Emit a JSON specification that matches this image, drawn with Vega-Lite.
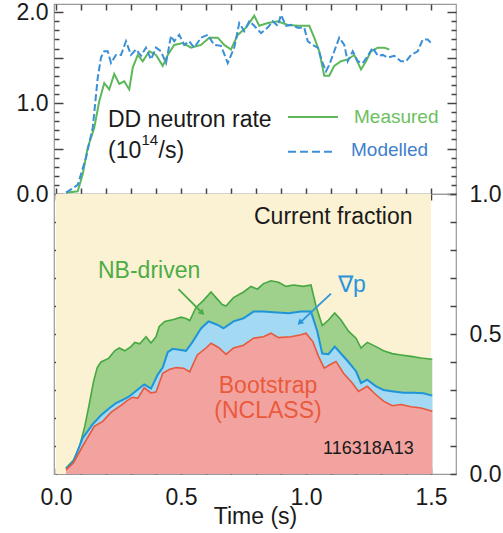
{
  "$schema": "https://vega.github.io/schema/vega-lite/v6.json",
  "padding": {"left": 15, "top": 0, "right": 0, "bottom": 0},
  "background": "#ffffff",
  "bounds": "flush",
  "spacing": 0,
  "config": {
    "font": "Liberation Sans",
    "view": {"stroke": "#9a9a9a", "strokeWidth": 1.2},
    "axis": {
      "domain": false,
      "grid": false,
      "ticks": true,
      "zindex": 2,
      "tickColor": "#444444",
      "tickWidth": 1.5,
      "tickOpacity": 1,
      "labelFont": "Liberation Sans",
      "labelFontSize": 23,
      "labelColor": "#1a1a1a",
      "labelOverlap": false,
      "labelFlush": false,
      "titleFont": "Liberation Sans",
      "titleFontSize": 23,
      "titleFontWeight": "normal",
      "titleColor": "#1a1a1a"
    }
  },
  "datasets": {
    "measured": [
      {"t": 0.04, "rate": 0.015}, {"t": 0.087, "rate": 0.03}, {"t": 0.107, "rate": 0.22}, {"t": 0.127, "rate": 0.51},
      {"t": 0.153, "rate": 0.73}, {"t": 0.173, "rate": 1.02}, {"t": 0.193, "rate": 1.22}, {"t": 0.213, "rate": 1.15},
      {"t": 0.233, "rate": 1.32}, {"t": 0.253, "rate": 1.21}, {"t": 0.273, "rate": 1.24}, {"t": 0.293, "rate": 1.15},
      {"t": 0.307, "rate": 1.39}, {"t": 0.327, "rate": 1.53}, {"t": 0.347, "rate": 1.46}, {"t": 0.373, "rate": 1.57},
      {"t": 0.4, "rate": 1.53}, {"t": 0.427, "rate": 1.41}, {"t": 0.447, "rate": 1.53}, {"t": 0.473, "rate": 1.64},
      {"t": 0.507, "rate": 1.66}, {"t": 0.54, "rate": 1.61}, {"t": 0.58, "rate": 1.64}, {"t": 0.613, "rate": 1.72},
      {"t": 0.647, "rate": 1.72}, {"t": 0.673, "rate": 1.64}, {"t": 0.7, "rate": 1.59}, {"t": 0.727, "rate": 1.75},
      {"t": 0.76, "rate": 1.83}, {"t": 0.793, "rate": 1.96}, {"t": 0.813, "rate": 1.85}, {"t": 0.847, "rate": 1.88},
      {"t": 0.887, "rate": 1.9}, {"t": 0.927, "rate": 1.86}, {"t": 0.967, "rate": 1.85}, {"t": 1.013, "rate": 1.85},
      {"t": 1.033, "rate": 1.72}, {"t": 1.053, "rate": 1.57}, {"t": 1.073, "rate": 1.3}, {"t": 1.093, "rate": 1.3},
      {"t": 1.113, "rate": 1.41}, {"t": 1.14, "rate": 1.46}, {"t": 1.167, "rate": 1.48}, {"t": 1.193, "rate": 1.53},
      {"t": 1.22, "rate": 1.37}, {"t": 1.24, "rate": 1.46}, {"t": 1.26, "rate": 1.57}, {"t": 1.287, "rate": 1.61},
      {"t": 1.313, "rate": 1.61}, {"t": 1.333, "rate": 1.59}
    ],
    "modelled": [
      {"t": 0.04, "rate": 0.015}, {"t": 0.087, "rate": 0.1}, {"t": 0.12, "rate": 0.4}, {"t": 0.147, "rate": 0.73},
      {"t": 0.167, "rate": 1.28}, {"t": 0.18, "rate": 1.5}, {"t": 0.193, "rate": 1.57}, {"t": 0.207, "rate": 1.57},
      {"t": 0.22, "rate": 1.44}, {"t": 0.24, "rate": 1.53}, {"t": 0.26, "rate": 1.53}, {"t": 0.28, "rate": 1.68},
      {"t": 0.3, "rate": 1.53}, {"t": 0.32, "rate": 1.59}, {"t": 0.34, "rate": 1.52}, {"t": 0.36, "rate": 1.61},
      {"t": 0.38, "rate": 1.48}, {"t": 0.4, "rate": 1.61}, {"t": 0.42, "rate": 1.57}, {"t": 0.44, "rate": 1.44},
      {"t": 0.46, "rate": 1.74}, {"t": 0.473, "rate": 1.68}, {"t": 0.493, "rate": 1.75}, {"t": 0.513, "rate": 1.64},
      {"t": 0.533, "rate": 1.68}, {"t": 0.553, "rate": 1.61}, {"t": 0.58, "rate": 1.72}, {"t": 0.607, "rate": 1.75},
      {"t": 0.633, "rate": 1.64}, {"t": 0.66, "rate": 1.63}, {"t": 0.687, "rate": 1.44}, {"t": 0.713, "rate": 1.61},
      {"t": 0.733, "rate": 1.88}, {"t": 0.753, "rate": 1.79}, {"t": 0.773, "rate": 1.9}, {"t": 0.793, "rate": 1.85},
      {"t": 0.82, "rate": 1.77}, {"t": 0.847, "rate": 1.83}, {"t": 0.867, "rate": 1.9}, {"t": 0.887, "rate": 1.85},
      {"t": 0.9, "rate": 1.97}, {"t": 0.92, "rate": 1.85}, {"t": 0.94, "rate": 1.86}, {"t": 0.967, "rate": 1.83},
      {"t": 0.993, "rate": 1.83}, {"t": 1.007, "rate": 1.68}, {"t": 1.027, "rate": 1.64}, {"t": 1.047, "rate": 1.61},
      {"t": 1.067, "rate": 1.44}, {"t": 1.08, "rate": 1.35}, {"t": 1.093, "rate": 1.42}, {"t": 1.113, "rate": 1.57},
      {"t": 1.133, "rate": 1.72}, {"t": 1.153, "rate": 1.64}, {"t": 1.167, "rate": 1.46}, {"t": 1.187, "rate": 1.57},
      {"t": 1.207, "rate": 1.46}, {"t": 1.227, "rate": 1.44}, {"t": 1.247, "rate": 1.52}, {"t": 1.267, "rate": 1.61},
      {"t": 1.287, "rate": 1.52}, {"t": 1.307, "rate": 1.53}, {"t": 1.327, "rate": 1.5}, {"t": 1.353, "rate": 1.52},
      {"t": 1.38, "rate": 1.46}, {"t": 1.4, "rate": 1.46}, {"t": 1.42, "rate": 1.53}, {"t": 1.447, "rate": 1.57},
      {"t": 1.467, "rate": 1.7}, {"t": 1.487, "rate": 1.7}, {"t": 1.507, "rate": 1.64}
    ],
    "nbTop": [
      {"t": 0.04, "cum": 0.02}, {"t": 0.07, "cum": 0.05}, {"t": 0.093, "cum": 0.094}, {"t": 0.115, "cum": 0.17},
      {"t": 0.133, "cum": 0.249}, {"t": 0.15, "cum": 0.33}, {"t": 0.165, "cum": 0.38}, {"t": 0.18, "cum": 0.4},
      {"t": 0.21, "cum": 0.413}, {"t": 0.235, "cum": 0.44}, {"t": 0.253, "cum": 0.45}, {"t": 0.275, "cum": 0.44},
      {"t": 0.3, "cum": 0.455}, {"t": 0.315, "cum": 0.47}, {"t": 0.335, "cum": 0.465}, {"t": 0.36, "cum": 0.49},
      {"t": 0.38, "cum": 0.468}, {"t": 0.4, "cum": 0.49}, {"t": 0.413, "cum": 0.527}, {"t": 0.435, "cum": 0.545},
      {"t": 0.47, "cum": 0.552}, {"t": 0.5, "cum": 0.56}, {"t": 0.52, "cum": 0.555}, {"t": 0.535, "cum": 0.548},
      {"t": 0.56, "cum": 0.595}, {"t": 0.59, "cum": 0.62}, {"t": 0.62, "cum": 0.65}, {"t": 0.64, "cum": 0.63},
      {"t": 0.665, "cum": 0.605}, {"t": 0.68, "cum": 0.6}, {"t": 0.71, "cum": 0.63}, {"t": 0.75, "cum": 0.65},
      {"t": 0.78, "cum": 0.67}, {"t": 0.805, "cum": 0.66}, {"t": 0.83, "cum": 0.68}, {"t": 0.86, "cum": 0.69},
      {"t": 0.89, "cum": 0.685}, {"t": 0.92, "cum": 0.67}, {"t": 0.95, "cum": 0.675}, {"t": 0.99, "cum": 0.67},
      {"t": 1.02, "cum": 0.675}, {"t": 1.04, "cum": 0.6}, {"t": 1.065, "cum": 0.53}, {"t": 1.09, "cum": 0.55},
      {"t": 1.115, "cum": 0.575}, {"t": 1.14, "cum": 0.55}, {"t": 1.17, "cum": 0.51}, {"t": 1.2, "cum": 0.485},
      {"t": 1.22, "cum": 0.45}, {"t": 1.245, "cum": 0.47}, {"t": 1.28, "cum": 0.455}, {"t": 1.31, "cum": 0.44},
      {"t": 1.345, "cum": 0.43}, {"t": 1.38, "cum": 0.425}, {"t": 1.42, "cum": 0.42}, {"t": 1.46, "cum": 0.414},
      {"t": 1.505, "cum": 0.41}
    ],
    "gradPTop": [
      {"t": 0.04, "cum": 0.02}, {"t": 0.07, "cum": 0.045}, {"t": 0.107, "cum": 0.129}, {"t": 0.147, "cum": 0.178},
      {"t": 0.18, "cum": 0.21}, {"t": 0.213, "cum": 0.235}, {"t": 0.24, "cum": 0.253}, {"t": 0.267, "cum": 0.265},
      {"t": 0.293, "cum": 0.277}, {"t": 0.327, "cum": 0.302}, {"t": 0.353, "cum": 0.32}, {"t": 0.38, "cum": 0.305},
      {"t": 0.407, "cum": 0.355}, {"t": 0.427, "cum": 0.38}, {"t": 0.447, "cum": 0.435}, {"t": 0.467, "cum": 0.447},
      {"t": 0.493, "cum": 0.444}, {"t": 0.52, "cum": 0.44}, {"t": 0.545, "cum": 0.47}, {"t": 0.58, "cum": 0.52},
      {"t": 0.61, "cum": 0.545}, {"t": 0.645, "cum": 0.533}, {"t": 0.67, "cum": 0.52}, {"t": 0.71, "cum": 0.545},
      {"t": 0.75, "cum": 0.556}, {"t": 0.79, "cum": 0.58}, {"t": 0.83, "cum": 0.58}, {"t": 0.87, "cum": 0.578},
      {"t": 0.93, "cum": 0.574}, {"t": 0.98, "cum": 0.58}, {"t": 1.02, "cum": 0.58}, {"t": 1.045, "cum": 0.51},
      {"t": 1.065, "cum": 0.43}, {"t": 1.09, "cum": 0.428}, {"t": 1.115, "cum": 0.455}, {"t": 1.145, "cum": 0.425},
      {"t": 1.17, "cum": 0.4}, {"t": 1.2, "cum": 0.367}, {"t": 1.22, "cum": 0.325}, {"t": 1.245, "cum": 0.337},
      {"t": 1.28, "cum": 0.313}, {"t": 1.31, "cum": 0.3}, {"t": 1.35, "cum": 0.295}, {"t": 1.39, "cum": 0.29},
      {"t": 1.43, "cum": 0.29}, {"t": 1.47, "cum": 0.288}, {"t": 1.505, "cum": 0.28}
    ],
    "bootstrap": [
      {"t": 0.04, "cum": 0.015}, {"t": 0.07, "cum": 0.04}, {"t": 0.107, "cum": 0.1}, {"t": 0.153, "cum": 0.17},
      {"t": 0.187, "cum": 0.188}, {"t": 0.22, "cum": 0.22}, {"t": 0.26, "cum": 0.245}, {"t": 0.287, "cum": 0.264},
      {"t": 0.307, "cum": 0.274}, {"t": 0.327, "cum": 0.27}, {"t": 0.353, "cum": 0.308}, {"t": 0.38, "cum": 0.29},
      {"t": 0.4, "cum": 0.293}, {"t": 0.427, "cum": 0.36}, {"t": 0.453, "cum": 0.373}, {"t": 0.48, "cum": 0.38},
      {"t": 0.51, "cum": 0.378}, {"t": 0.535, "cum": 0.365}, {"t": 0.565, "cum": 0.425}, {"t": 0.6, "cum": 0.45},
      {"t": 0.62, "cum": 0.467}, {"t": 0.65, "cum": 0.452}, {"t": 0.68, "cum": 0.427}, {"t": 0.71, "cum": 0.45},
      {"t": 0.75, "cum": 0.46}, {"t": 0.79, "cum": 0.485}, {"t": 0.83, "cum": 0.49}, {"t": 0.86, "cum": 0.503},
      {"t": 0.89, "cum": 0.487}, {"t": 0.94, "cum": 0.49}, {"t": 0.98, "cum": 0.497}, {"t": 1.0, "cum": 0.503},
      {"t": 1.027, "cum": 0.473}, {"t": 1.05, "cum": 0.42}, {"t": 1.073, "cum": 0.378}, {"t": 1.095, "cum": 0.39},
      {"t": 1.12, "cum": 0.402}, {"t": 1.15, "cum": 0.36}, {"t": 1.185, "cum": 0.325}, {"t": 1.21, "cum": 0.295},
      {"t": 1.245, "cum": 0.313}, {"t": 1.28, "cum": 0.283}, {"t": 1.31, "cum": 0.26}, {"t": 1.345, "cum": 0.244},
      {"t": 1.38, "cum": 0.248}, {"t": 1.42, "cum": 0.24}, {"t": 1.46, "cum": 0.236}, {"t": 1.505, "cum": 0.224}
    ],
    "one": [{}]
  },
  "vconcat": [
    {
      "width": 402,
      "height": 190,
      "resolve": {"axis": {"x": "independent", "y": "independent"}},
      "layer": [
        {
          "data": {"name": "measured"},
          "mark": {"type": "line", "color": "#5cb85a", "strokeWidth": 2},
          "encoding": {
            "x": {
              "field": "t", "type": "quantitative",
              "scale": {"domain": [-0.008, 1.6], "nice": false, "zero": false},
              "axis": {"orient": "bottom", "values": [0, 0.1, 0.2, 0.3, 0.4, 0.5, 0.6, 0.7, 0.8, 0.9, 1, 1.1, 1.2, 1.3, 1.4, 1.5], "tickSize": 6, "offset": -6, "labels": false, "title": null}
            },
            "y": {
              "field": "rate", "type": "quantitative",
              "scale": {"domain": [0, 2.09], "nice": false},
              "axis": {"orient": "left", "values": [0, 0.5, 1, 1.5, 2], "tickSize": 9, "offset": -9, "labelPadding": 6, "labelExpr": "datum.value % 1 == 0 ? format(datum.value, '.1f') : ''", "title": null}
            }
          }
        },
        {
          "data": {"name": "modelled"},
          "mark": {"type": "line", "color": "#3a8fd6", "strokeWidth": 2, "strokeDash": [7, 3]},
          "encoding": {
            "x": {
              "field": "t", "type": "quantitative",
              "axis": {"orient": "top", "values": [0, 0.1, 0.2, 0.3, 0.4, 0.5, 0.6, 0.7, 0.8, 0.9, 1, 1.1, 1.2, 1.3, 1.4, 1.5], "tickSize": 6, "offset": -6, "labels": false, "title": null}
            },
            "y": {
              "field": "rate", "type": "quantitative",
              "axis": {"orient": "left", "values": [0.1, 0.2, 0.3, 0.4, 0.6, 0.7, 0.8, 0.9, 1.1, 1.2, 1.3, 1.4, 1.6, 1.7, 1.8, 1.9], "tickSize": 5, "offset": -5, "labels": false, "title": null}
            }
          }
        },
        {
          "data": {"name": "one"},
          "mark": {"type": "rule", "color": "#5cb85a", "strokeWidth": 2},
          "encoding": {
            "x": {"datum": 0.928, "axis": null},
            "x2": {"datum": 1.128},
            "y": {"datum": 0.846, "axis": {"orient": "right", "values": [0, 0.5, 1, 1.5, 2], "tickSize": 9, "offset": -9, "labels": false, "title": null}}
          }
        },
        {
          "data": {"name": "one"},
          "mark": {"type": "rule", "color": "#3a8fd6", "strokeWidth": 2, "strokeDash": [8, 4]},
          "encoding": {
            "x": {"datum": 0.928, "axis": null},
            "x2": {"datum": 1.112},
            "y": {"datum": 0.465, "axis": {"orient": "right", "values": [0.1, 0.2, 0.3, 0.4, 0.6, 0.7, 0.8, 0.9, 1.1, 1.2, 1.3, 1.4, 1.6, 1.7, 1.8, 1.9], "tickSize": 5, "offset": -5, "labels": false, "title": null}}
          }
        },
        {
          "data": {"name": "one"},
          "mark": {"type": "text", "align": "left", "baseline": "alphabetic", "fontSize": 23, "color": "#1a1a1a"},
          "encoding": {"x": {"datum": 0.208, "axis": null}, "y": {"datum": 0.736, "axis": null}, "text": {"value": "DD neutron rate"}}
        },
        {
          "data": {"name": "one"},
          "mark": {"type": "text", "align": "left", "baseline": "alphabetic", "fontSize": 23, "color": "#1a1a1a"},
          "encoding": {"x": {"datum": 0.208, "axis": null}, "y": {"datum": 0.396, "axis": null}, "text": {"value": "(10"}}
        },
        {
          "data": {"name": "one"},
          "mark": {"type": "text", "align": "left", "baseline": "alphabetic", "fontSize": 15, "color": "#1a1a1a"},
          "encoding": {"x": {"datum": 0.342, "axis": null}, "y": {"datum": 0.54, "axis": null}, "text": {"value": "14"}}
        },
        {
          "data": {"name": "one"},
          "mark": {"type": "text", "align": "left", "baseline": "alphabetic", "fontSize": 23, "color": "#1a1a1a"},
          "encoding": {"x": {"datum": 0.41, "axis": null}, "y": {"datum": 0.396, "axis": null}, "text": {"value": "/s)"}}
        },
        {
          "data": {"name": "one"},
          "mark": {"type": "text", "align": "left", "baseline": "alphabetic", "fontSize": 19, "color": "#6cbf5e"},
          "encoding": {"x": {"datum": 1.192, "axis": null}, "y": {"datum": 0.78, "axis": null}, "text": {"value": "Measured"}}
        },
        {
          "data": {"name": "one"},
          "mark": {"type": "text", "align": "left", "baseline": "alphabetic", "fontSize": 19, "color": "#3f7fcc"},
          "encoding": {"x": {"datum": 1.18, "axis": null}, "y": {"datum": 0.42, "axis": null}, "text": {"value": "Modelled"}}
        }
      ]
    },
    {
      "width": 402,
      "height": 280,
      "resolve": {"axis": {"x": "independent", "y": "independent"}},
      "layer": [
        {
          "data": {"name": "one"},
          "mark": {"type": "rect", "color": "#fbf1d3"},
          "encoding": {
            "x": {
              "datum": 0,
              "scale": {"domain": [-0.008, 1.6], "nice": false, "zero": false},
              "axis": {"orient": "bottom", "values": [0, 0.1, 0.2, 0.3, 0.4, 0.5, 0.6, 0.7, 0.8, 0.9, 1, 1.1, 1.2, 1.3, 1.4, 1.5], "tickSize": 6, "offset": -6, "labelPadding": 12, "labelExpr": "abs(datum.value * 2 - round(datum.value * 2)) < 0.01 ? format(datum.value, '.1f') : ''", "title": "Time (s)", "titlePadding": -4}
            },
            "x2": {"datum": 1.5},
            "y": {
              "datum": 0,
              "scale": {"domain": [0, 1], "nice": false},
              "axis": {"orient": "left", "values": [0.1, 0.2, 0.3, 0.4, 0.5, 0.6, 0.7, 0.8, 0.9], "tickSize": 6, "offset": -6, "labels": false, "title": null}
            },
            "y2": {"datum": 1}
          }
        },
        {
          "data": {"name": "nbTop"},
          "mark": {"type": "area", "color": "#9fd08c", "opacity": 1, "line": {"color": "#46a842", "strokeWidth": 1.6}},
          "encoding": {
            "x": {"field": "t", "type": "quantitative", "axis": {"orient": "top", "values": [0, 0.1, 0.2, 0.3, 0.4, 0.5, 0.6, 0.7, 0.8, 0.9, 1, 1.1, 1.2, 1.3, 1.4, 1.5], "tickSize": 6, "offset": -6, "labels": false, "title": null}},
            "y": {"field": "cum", "type": "quantitative", "stack": null, "axis": {"orient": "right", "values": [0, 0.1, 0.2, 0.3, 0.4, 0.5, 0.6, 0.7, 0.8, 0.9, 1], "tickSize": 6, "offset": -6, "labelPadding": 13, "labelExpr": "abs(datum.value * 2 - round(datum.value * 2)) < 0.01 ? format(datum.value, '.1f') : ''", "title": null}}
          }
        },
        {
          "data": {"name": "gradPTop"},
          "mark": {"type": "area", "color": "#a3d9f2", "opacity": 1, "line": {"color": "#1f94d8", "strokeWidth": 2}},
          "encoding": {
            "x": {"field": "t", "type": "quantitative", "axis": null},
            "y": {"field": "cum", "type": "quantitative", "stack": null, "axis": null}
          }
        },
        {
          "data": {"name": "bootstrap"},
          "mark": {"type": "area", "color": "#f2a3a0", "opacity": 1, "line": {"color": "#e8583a", "strokeWidth": 1.6}},
          "encoding": {
            "x": {"field": "t", "type": "quantitative", "axis": null},
            "y": {"field": "cum", "type": "quantitative", "stack": null, "axis": null}
          }
        },
        {
          "data": {"name": "one"},
          "mark": {"type": "text", "align": "left", "baseline": "alphabetic", "fontSize": 23, "color": "#1a1a1a"},
          "encoding": {"x": {"datum": 0.792, "axis": null}, "y": {"datum": 0.893, "axis": null}, "text": {"value": "Current fraction"}}
        },
        {
          "data": {"name": "one"},
          "mark": {"type": "text", "align": "left", "baseline": "alphabetic", "fontSize": 23, "color": "#4cad46"},
          "encoding": {"x": {"datum": 0.168, "axis": null}, "y": {"datum": 0.7, "axis": null}, "text": {"value": "NB-driven"}}
        },
        {
          "data": {"name": "one"},
          "mark": {"type": "text", "align": "left", "baseline": "alphabetic", "fontSize": 23, "color": "#2a96dc"},
          "encoding": {"x": {"datum": 1.128, "axis": null}, "y": {"datum": 0.651, "axis": null}, "text": {"value": "∇p"}}
        },
        {
          "data": {"name": "one"},
          "mark": {"type": "text", "align": "center", "baseline": "alphabetic", "fontSize": 23, "color": "#ea5a3a"},
          "encoding": {"x": {"datum": 0.848, "axis": null}, "y": {"datum": 0.288, "axis": null}, "text": {"value": "Bootstrap"}}
        },
        {
          "data": {"name": "one"},
          "mark": {"type": "text", "align": "center", "baseline": "alphabetic", "fontSize": 23, "color": "#ea5a3a"},
          "encoding": {"x": {"datum": 0.848, "axis": null}, "y": {"datum": 0.2, "axis": null}, "text": {"value": "(NCLASS)"}}
        },
        {
          "data": {"name": "one"},
          "mark": {"type": "text", "align": "left", "baseline": "alphabetic", "fontSize": 18, "color": "#1a1a1a"},
          "encoding": {"x": {"datum": 1.068, "axis": null}, "y": {"datum": 0.071, "axis": null}, "text": {"value": "116318A13"}}
        },
        {
          "data": {"name": "one"},
          "mark": {"type": "rule", "color": "#4cad46", "strokeWidth": 1.8},
          "encoding": {"x": {"datum": 0.49, "axis": null}, "x2": {"datum": 0.585}, "y": {"datum": 0.66, "axis": null}, "y2": {"datum": 0.575}}
        },
        {
          "data": {"name": "one"},
          "mark": {"type": "point", "shape": "triangle-right", "filled": true, "color": "#4cad46", "size": 45, "angle": 45, "opacity": 1},
          "encoding": {"x": {"datum": 0.585, "axis": null}, "y": {"datum": 0.575, "axis": null}}
        },
        {
          "data": {"name": "one"},
          "mark": {"type": "rule", "color": "#2a96dc", "strokeWidth": 1.8},
          "encoding": {"x": {"datum": 1.1, "axis": null}, "x2": {"datum": 0.975}, "y": {"datum": 0.644, "axis": null}, "y2": {"datum": 0.54}}
        },
        {
          "data": {"name": "one"},
          "mark": {"type": "point", "shape": "triangle-right", "filled": true, "color": "#2a96dc", "size": 45, "angle": 137, "opacity": 1},
          "encoding": {"x": {"datum": 0.975, "axis": null}, "y": {"datum": 0.54, "axis": null}}
        }
      ]
    }
  ]
}
